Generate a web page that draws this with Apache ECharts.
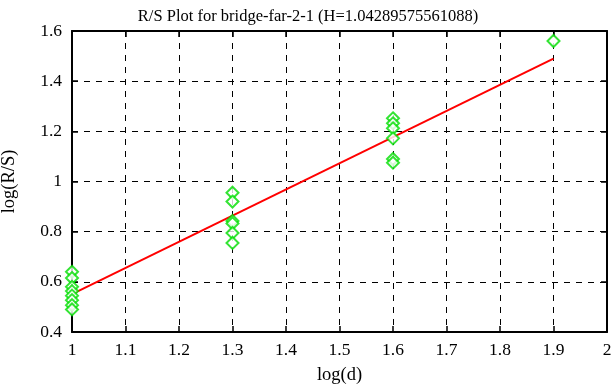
<!DOCTYPE html>
<html><head><meta charset="utf-8">
<script src="https://cdn.jsdelivr.net/npm/echarts@6/dist/echarts.min.js"></script>
<style>html,body{margin:0;padding:0;background:#fff}#c{width:616px;height:387px}</style>
</head><body><div id="c"></div>
<script>
const title = 'R/S Plot for bridge-far-2-1 (H=1.04289575561088)';
const xs = [1,1,1,1,1,1,1,1, 1.3,1.3,1.3,1.3,1.3,1.3, 1.6,1.6,1.6,1.6,1.6,1.6, 1.9];
const ys = [0.64,0.615,0.58,0.563,0.545,0.527,0.507,0.49, 0.955,0.92,0.843,0.833,0.795,0.755, 1.252,1.232,1.212,1.172,1.09,1.075, 1.56];
const fitX = [1, 1.9];
const fitY = [0.551, 1.49];

const chart = echarts.init(document.getElementById('c'), null, {renderer:'canvas'});
const font = 'Liberation Serif';
const gridLine = {show:true, lineStyle:{color:'#000', type:[6,6], width:1}};
chart.setOption({
  animation:false,
  backgroundColor:'#fff',
  title:{text:title, left:'center', top:3, textStyle:{fontFamily:font, fontSize:16.5, fontWeight:'normal', color:'#000'}},
  grid:{left:72, right:9, top:31, bottom:55, containLabel:false, outerBoundsMode:'none'},
  xAxis:[{type:'value', min:1, max:2, interval:0.1, position:'bottom',
    name:'log(d)', nameLocation:'middle', nameGap:34, nameTextStyle:{fontFamily:font, fontSize:18.5, color:'#000'},
    axisLine:{show:true, lineStyle:{color:'#000', width:2}},
    axisTick:{show:true, inside:true, length:6, lineStyle:{color:'#000', width:1.5}},
    axisLabel:{fontFamily:font, fontSize:17.5, color:'#000', margin:9, formatter:v=>String(Math.round(v*10)/10)},
    splitLine:gridLine},
   {type:'value', min:1, max:2, interval:0.1, position:'top',
    axisLine:{show:true, onZero:false, lineStyle:{color:'#000', width:2}},
    axisTick:{show:true, inside:true, length:6, lineStyle:{color:'#000', width:1.5}},
    axisLabel:{show:false}, splitLine:{show:false}}],
  yAxis:[{type:'value', min:0.4, max:1.6, interval:0.2,
    name:'log(R/S)', nameLocation:'middle', nameGap:53, nameTextStyle:{fontFamily:font, fontSize:18.5, color:'#000'},
    axisLine:{show:true, lineStyle:{color:'#000', width:2}},
    axisTick:{show:true, inside:true, length:6, lineStyle:{color:'#000', width:1.5}},
    axisLabel:{fontFamily:font, fontSize:17.5, color:'#000', margin:10, formatter:v=>String(Math.round(v*10)/10)},
    splitLine:gridLine},
   {type:'value', min:0.4, max:1.6, interval:0.2, position:'right',
    axisLine:{show:true, onZero:false, lineStyle:{color:'#000', width:2}},
    axisTick:{show:true, inside:true, length:6, lineStyle:{color:'#000', width:1.5}},
    axisLabel:{show:false}, splitLine:{show:false}}],
  series:[
    {type:'line', data:fitX.map((x,i)=>[x,fitY[i]]), showSymbol:false, symbol:'none',
     lineStyle:{color:'#ff0000', width:2}, z:3},
    {type:'scatter', data:xs.map((x,i)=>[x,ys[i]]), symbol:'emptyDiamond', symbolSize:12,
     itemStyle:{color:'#00dd00', borderColor:'#00dd00', borderWidth:2}, z:4}
  ]
});
</script></body></html>
